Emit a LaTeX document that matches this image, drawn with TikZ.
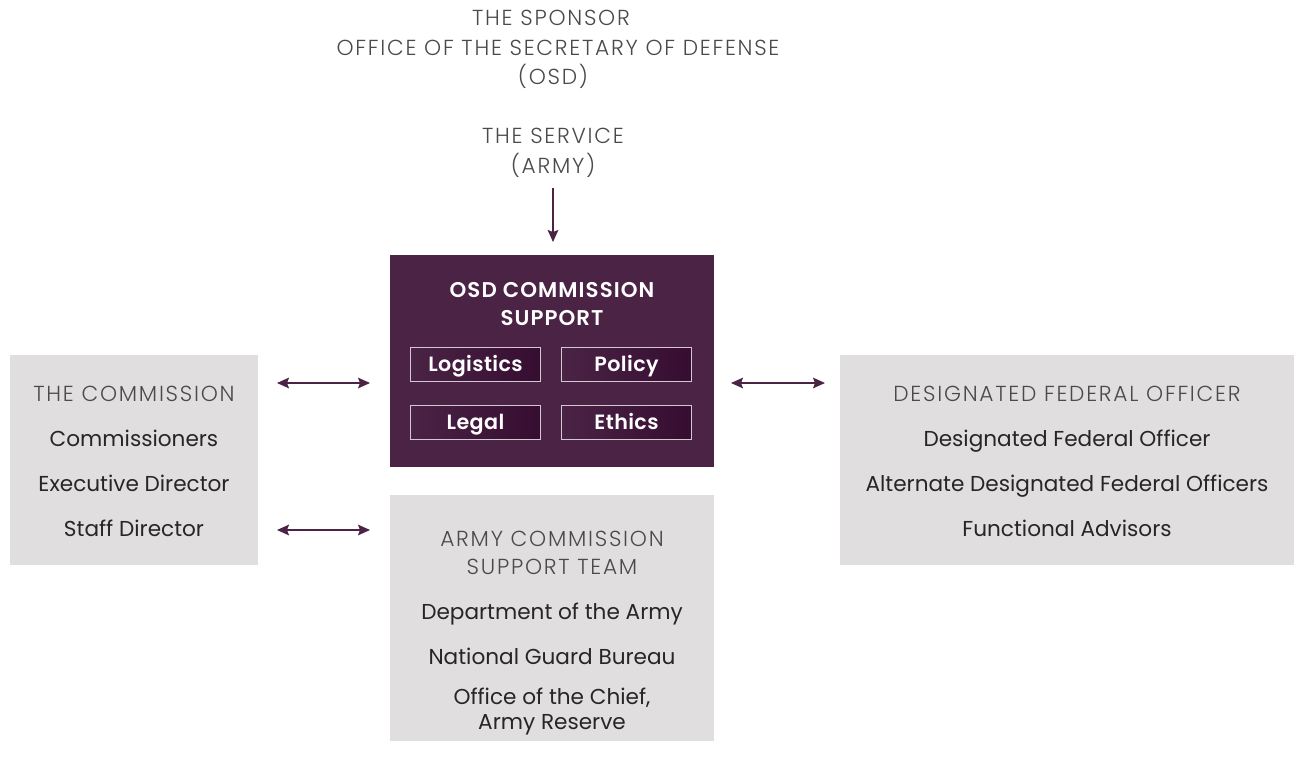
\documentclass[tikz,border=0pt]{standalone}
\usepackage{fontspec}
\setmainfont{Poppins}
\newfontfamily\lightfont{Poppins Light}[LetterSpace=8]
\newfontfamily\semiwide{Poppins SemiBold}[LetterSpace=5]
\newfontfamily\semib{Poppins SemiBold}[LetterSpace=2]
\usetikzlibrary{arrows.meta}
\definecolor{plum}{HTML}{4A2345}
\definecolor{plumdark}{HTML}{360D31}
\definecolor{boxgray}{HTML}{E0DEDF}
\definecolor{txt}{HTML}{262626}
\definecolor{headtxt}{HTML}{4A4A4A}
\tikzset{
  px/.style={x=0.75pt,y=-0.75pt},
  panel/.style={fill=boxgray,draw=none},
  tx/.style={text height=14pt,text depth=3pt,inner sep=0pt,anchor=center},
  body/.style={tx,font=\fontsize{16.2}{19}\selectfont,text=txt},
  head/.style={tx,font=\fontsize{16.3}{19}\selectfont\lightfont,text=headtxt},
  whead/.style={tx,font=\fontsize{16}{19}\selectfont\semiwide,text=white},
  sub/.style={draw=white!75!plum,line width=0.8pt,left color=plum,right color=plumdark,minimum width=97pt,minimum height=26pt,font=\fontsize{15.5}{18}\selectfont\semib,text=white,inner sep=0pt,text height=13pt,text depth=3pt},
  conn/.style={draw=plum,line width=1pt,{Stealth[length=9pt,width=8pt,inset=1.5pt]}-{Stealth[length=9pt,width=8pt,inset=1.5pt]}},
  dconn/.style={draw=plum,line width=1pt,-{Stealth[length=9pt,width=8pt,inset=1.5pt]}}
}
\begin{document}
\begin{tikzpicture}[px]
\useasboundingbox (0,0) rectangle (1294,770);
\fill[white] (0,0) rectangle (1294,770);
% top texts
\node[head] (sp1) at (551,18) {THE SPONSOR};
\node[head] (sp2) at (558,48) {OFFICE OF THE SECRETARY OF DEFENSE};
\node[head] (sp3) at (553,77) {(OSD)};
\node[head] (sv1) at (553,136) {THE SERVICE};
\node[head] (sv2) at (553,166) {(ARMY)};
\coordinate (arrtop) at (553,188);
% purple box
\fill[plum] (390,255) rectangle (714,467);
\coordinate (osdtop) at (553,242);
\node[whead] (osd1) at (552,290) {OSD COMMISSION};
\node[whead] (osd2) at (552,318) {SUPPORT};
\node[sub] (log) at (475.5,364.5) {Logistics};
\node[sub] (pol) at (626.5,364.5) {Policy};
\node[sub] (leg) at (475.5,422.5) {Legal};
\node[sub] (eth) at (626.5,422.5) {Ethics};
% left panel
\fill[panel] (10,355) rectangle (258,565);
\node[head] (c0) at (134,394) {THE COMMISSION};
\node[body] (c1) at (134,439) {Commissioners};
\node[body] (c2) at (134,484) {Executive Director};
\node[body] (c3) at (134,529) {Staff Director};
% right panel
\fill[panel] (840,355) rectangle (1294,565);
\node[head] (d0) at (1067,394) {DESIGNATED FEDERAL OFFICER};
\node[body] (d1) at (1067,439) {Designated Federal Officer};
\node[body] (d2) at (1067,484) {Alternate Designated Federal Officers};
\node[body] (d3) at (1067,529) {Functional Advisors};
% bottom panel
\fill[panel] (390,495) rectangle (714,741);
\node[head] (a0) at (552,539) {ARMY COMMISSION};
\node[head] (a1) at (552,567) {SUPPORT TEAM};
\node[body] (a2) at (552,612) {Department of the Army};
\node[body] (a3) at (552,657) {National Guard Bureau};
\node[body] (a4) at (552,697) {Office of the Chief,};
\node[body] (a5) at (552,722) {Army Reserve};
% connectors
\coordinate (l1a) at (277,383); \coordinate (l1b) at (370,383);
\coordinate (l2a) at (277,530); \coordinate (l2b) at (370,530);
\coordinate (r1a) at (731,383); \coordinate (r1b) at (825,383);
\draw[dconn] (arrtop) -- (osdtop);
\draw[conn] (l1a) -- (l1b);
\draw[conn] (l2a) -- (l2b);
\draw[conn] (r1a) -- (r1b);
\end{tikzpicture}
\end{document}
